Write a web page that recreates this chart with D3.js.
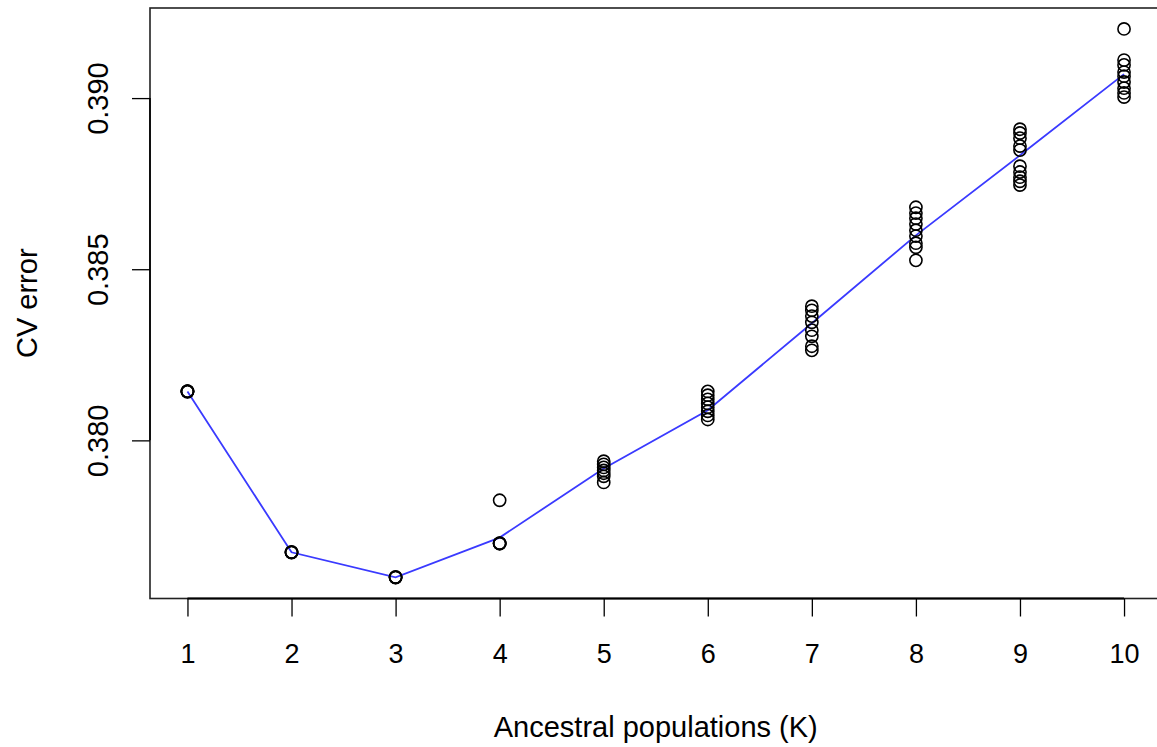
<!DOCTYPE html>
<html>
<head>
<meta charset="utf-8">
<script src="https://cdn.jsdelivr.net/npm/d3@7"></script>
<style>
  body { margin: 0; background: #fff; }
  svg text { font-family: "Liberation Sans", Arial, Helvetica, sans-serif; fill: #000; }
</style>
</head>
<body>
<div id="vis"></div>
<script>
// number of ancestral populations tested
const kValues = [1, 2, 3, 4, 5, 6, 7, 8, 9, 10];

// CV error of each run, one row per K
const cvRuns = [
  [0.38143, 0.38144, 0.38142, 0.38143, 0.38143],
  [0.37673, 0.37674, 0.37672, 0.37673],
  [0.37600, 0.37599, 0.37601, 0.37600],
  [0.37825, 0.37699, 0.37700, 0.37698, 0.37699],
  [0.37939, 0.37930, 0.37921, 0.37912, 0.37904, 0.37895, 0.37877],
  [0.38143, 0.38132, 0.38120, 0.38108, 0.38097, 0.38085, 0.38073, 0.38061],
  [0.38392, 0.38380, 0.38363, 0.38345, 0.38322, 0.38304, 0.38275, 0.38263],
  [0.38681, 0.38664, 0.38649, 0.38632, 0.38614, 0.38597, 0.38576, 0.38564, 0.38526],
  [0.38909, 0.38898, 0.38883, 0.38860, 0.38848, 0.38801, 0.38784, 0.38769, 0.38757, 0.38746],
  [0.39202, 0.39111, 0.39097, 0.39076, 0.39064, 0.39047, 0.39029, 0.39015, 0.39003]
];

// line through the runs
const cvMean = [0.38143, 0.37673, 0.37600, 0.37716, 0.37918, 0.38088, 0.38342, 0.38599, 0.38833, 0.39070];

const yTicks = [0.380, 0.385, 0.390];

const width = 1157, height = 747;
const plot = { left: 150, right: 1161.5, top: 8, bottom: 598.5 };

const svg = d3.select('#vis').append('svg')
  .attr('width', width)
  .attr('height', height);

const x = d3.scaleLinear().domain([0.64, 10.36]).range([plot.left, plot.right]);
const y = d3.scaleLinear().domain([0.375380, 0.392632]).range([plot.bottom, plot.top]);

// box round the plot region
svg.append('rect')
  .attr('x', plot.left)
  .attr('y', plot.top)
  .attr('width', plot.right - plot.left)
  .attr('height', plot.bottom - plot.top)
  .attr('fill', 'none')
  .attr('stroke', '#222')
  .attr('stroke-width', 1.6);

// x axis, R style: line from first to last tick
const xAxis = svg.append('g')
  .attr('transform', 'translate(0,' + plot.bottom + ')')
  .call(d3.axisBottom(x).tickValues(kValues).tickSize(18).tickPadding(27).tickSizeOuter(0));
xAxis.select('.domain').attr('d', 'M' + x(1) + ',0H' + x(10)).attr('stroke-width', 2);
xAxis.selectAll('.tick line').attr('stroke-width', 1.3);
xAxis.selectAll('.tick text')
  .attr('font-size', 27)
  .attr('font-family', '"Liberation Sans", Arial, sans-serif');

// y axis with rotated labels
const yAxis = svg.append('g')
  .attr('transform', 'translate(' + plot.left + ',0)')
  .call(d3.axisLeft(y).tickValues(yTicks).tickSize(18).tickFormat(d3.format('.3f')));
yAxis.select('.domain').attr('d', 'M0,' + y(0.380) + 'V' + y(0.390)).attr('stroke-width', 1.6);
yAxis.selectAll('.tick line').attr('stroke-width', 1.3);
yAxis.selectAll('.tick text')
  .attr('font-size', 29)
  .attr('font-family', '"Liberation Sans", Arial, sans-serif')
  .attr('text-anchor', 'middle')
  .attr('dy', 0)
  .attr('x', 0)
  .attr('transform', 'translate(-42,0) rotate(-90)');

// mean line
const line = d3.line()
  .x((d, i) => x(kValues[i]))
  .y(d => y(d));

svg.append('path')
  .datum(cvMean)
  .attr('d', line)
  .attr('fill', 'none')
  .attr('stroke', '#3a3aff')
  .attr('stroke-width', 1.8);

// one open circle per run
const points = [];
cvRuns.forEach((runs, i) => runs.forEach(v => points.push({ k: kValues[i], cv: v })));

svg.append('g').selectAll('circle')
  .data(points)
  .enter().append('circle')
  .attr('cx', d => x(d.k))
  .attr('cy', d => y(d.cv))
  .attr('r', 6.1)
  .attr('fill', 'none')
  .attr('stroke', '#000')
  .attr('stroke-width', 1.6);

// axis titles
svg.append('text')
  .attr('x', (x(1) + x(10)) / 2)
  .attr('y', 737)
  .attr('text-anchor', 'middle')
  .attr('font-size', 29)
  .text('Ancestral populations (K)');

svg.append('text')
  .attr('transform', 'translate(37,' + ((plot.top + plot.bottom) / 2) + ') rotate(-90)')
  .attr('text-anchor', 'middle')
  .attr('font-size', 29)
  .text('CV error');
</script>
</body>
</html>
